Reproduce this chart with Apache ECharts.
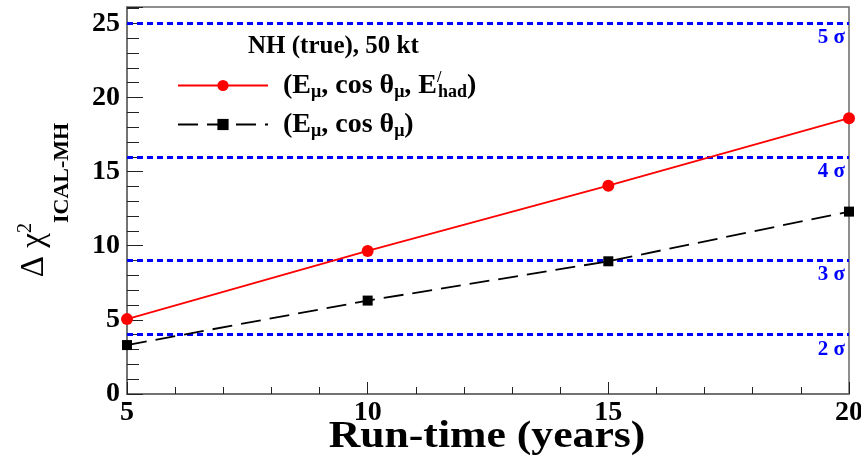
<!DOCTYPE html>
<html>
<head>
<meta charset="utf-8">
<script src="https://cdn.jsdelivr.net/npm/echarts@6/dist/echarts.min.js"></script>
<style>
  html, body { margin: 0; padding: 0; background: #fff; }
  #chart { width: 861px; height: 460px; }
</style>
</head>
<body>
<div id="chart"></div>
<script>
// Run-time values (years)
const runTime = [5, 10, 15, 20];
// Δχ² for the three-observable analysis (Eμ, cos θμ, E'had)
const chiWithHadron = [5.05, 9.65, 14.05, 18.6];
// Δχ² for the muon-only analysis (Eμ, cos θμ)
const chiMuonOnly = [3.3, 6.3, 8.95, 12.3];
// Significance reference levels: n σ  <->  Δχ² = n²
const sigmaLevels = [4, 9, 16, 25];
const sigmaLabels = ['2 σ', '3 σ', '4 σ', '5 σ'];
const yTicks = [0, 5, 10, 15, 20, 25];
const xTicks = [5, 10, 15, 20];

const serif = '"Liberation Serif", "DejaVu Serif", serif';
const nameA = 'withHadron';
const nameB = 'muonOnly';
const legendText = {
  [nameA]: '(E{sub|μ}, cos θ{sub|μ}, E{pr|/}{sub|had})',
  [nameB]: '(E{sub|μ}, cos θ{sub|μ})'
};

const chart = echarts.init(document.getElementById('chart'), null, { renderer: 'canvas' });

chart.setOption({
  animation: false,
  backgroundColor: '#ffffff',
  grid: {
    left: 127, right: 12, top: 7, bottom: 66,
    outerBoundsMode: 'none',
    show: true, borderColor: '#6a6a6a', borderWidth: 1.5, backgroundColor: 'transparent'
  },
  graphic: [
    {
      type: 'text', left: 248, top: 34,
      style: { text: 'NH (true), 50 kt', font: 'bold 25px ' + serif, fill: '#000' }
    },
    {
      // horizontal axis title
      type: 'text', x: 487, y: 437, scaleX: 1.15,
      style: {
        text: 'Run-time (years)', font: 'bold 38px ' + serif, fill: '#000',
        align: 'center', verticalAlign: 'middle'
      }
    },
    {
      // vertical axis title: Δχ² with the ICAL-MH subscript, reading upwards
      type: 'text', x: 44, y: 200, rotation: Math.PI / 2,
      style: {
        text: '{g|Δ χ}{sup|2}{sub|ICAL-MH}',
        align: 'center', verticalAlign: 'middle', fill: '#000',
        rich: {
          g: { fontFamily: serif, fontSize: 33, fill: '#000', padding: [0, 0, 20, 0] },
          sup: { fontFamily: serif, fontSize: 20, fill: '#000', padding: [0, 0, 36, 0] },
          sub: { fontFamily: serif, fontWeight: 'bold', fontSize: 22, fill: '#000', padding: [36, 0, 0, 0] }
        }
      }
    }
  ],
  legend: {
    orient: 'vertical', left: 172, top: 65,
    itemWidth: 90, itemHeight: 14, itemGap: 9,
    data: [nameA, nameB],
    formatter: n => legendText[n],
    textStyle: {
      fontFamily: serif, fontWeight: 'bold', fontSize: 28, color: '#000',
      padding: [0, 0, 0, 10],
      rich: {
        sub: { fontFamily: serif, fontWeight: 'bold', fontSize: 18, color: '#000', padding: [14, 0, 0, 0] },
        pr: { fontFamily: serif, fontWeight: 'bold', fontSize: 16, color: '#000', width: 1, padding: [0, 0, 15, 0] }
      }
    }
  },
  xAxis: {
    type: 'value', min: 5, max: 20, interval: 5,
    axisLine: { show: true, onZero: false, lineStyle: { color: '#6a6a6a', width: 1.5 } },
    axisTick: { show: true, inside: true, length: 12, lineStyle: { color: '#222', width: 1 } },
    minorTick: { show: true, splitNumber: 5, length: 7, lineStyle: { color: '#222', width: 1 } },
    splitLine: { show: false },
    axisLabel: {
      margin: 5, fontFamily: serif, fontWeight: 'bold', fontSize: 28, color: '#000',
      formatter: v => xTicks.includes(v) ? String(v) : ''
    }
  },
  yAxis: {
    type: 'value', min: 0, max: 26.1, interval: 5,
    axisLine: { show: true, onZero: false, lineStyle: { color: '#6a6a6a', width: 1.5 } },
    axisTick: { show: true, inside: true, length: 16, lineStyle: { color: '#222', width: 1 } },
    minorTick: { show: true, splitNumber: 5, length: 12, lineStyle: { color: '#222', width: 1 } },
    splitLine: { show: false },
    axisLabel: {
      margin: 7, fontFamily: serif, fontWeight: 'bold', fontSize: 28, color: '#000',
      formatter: v => yTicks.includes(v) ? String(v) : ''
    }
  },
  series: [
    {
      name: nameA, type: 'line',
      data: runTime.map((x, i) => [x, chiWithHadron[i]]),
      symbol: 'circle', symbolSize: 12,
      itemStyle: { color: '#ff0000' },
      lineStyle: { color: '#ff0000', width: 1.8 },
      z: 3,
      markLine: {
        silent: true, symbol: 'none', z: 1,
        lineStyle: { color: '#0000ff', type: [6, 4], width: 3 },
        label: {
          position: 'insideEndBottom', distance: [4, 4],
          fontFamily: serif, fontWeight: 'bold', fontSize: 21, color: '#0000ff',
          formatter: p => sigmaLabels[sigmaLevels.indexOf(p.value)]
        },
        data: sigmaLevels.map(v => ({ yAxis: v }))
      }
    },
    {
      name: nameB, type: 'line',
      data: runTime.map((x, i) => [x, chiMuonOnly[i]]),
      symbol: 'rect', symbolSize: 10,
      itemStyle: { color: '#000000' },
      lineStyle: { color: '#000000', width: 1.8, type: [20, 9] },
      z: 3
    }
  ]
});
</script>
</body>
</html>
